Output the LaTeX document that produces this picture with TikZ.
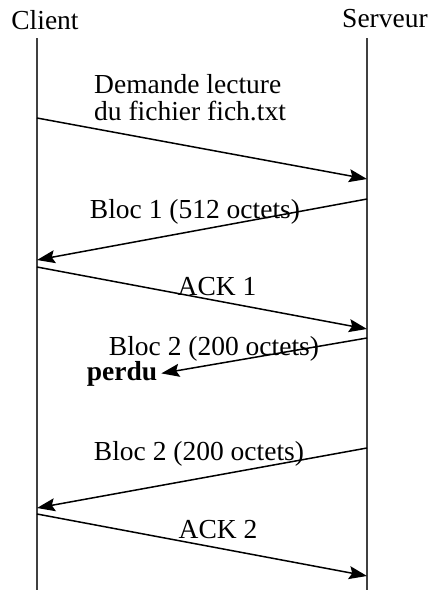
\documentclass[tikz,border=0pt]{standalone}
\usepackage{fontspec}
\setmainfont{Liberation Serif}
\usetikzlibrary{arrows.meta}
\begin{document}
\begin{tikzpicture}[x=1pt,y=-1pt,
  life/.style={line width=1.3pt,draw=black!75},
  msg/.style={line width=1.5pt,-{Stealth[length=18pt,width=13pt,inset=3pt]}},
  lbl/.style={anchor=base,inner sep=0pt,font=\fontsize{27.5}{31}\selectfont}]
\useasboundingbox (0,0) rectangle (431,590);
% lifelines
\coordinate (ctop) at (37,38);
\coordinate (cbot) at (37,590);
\coordinate (stop) at (367,38);
\coordinate (sbot) at (367,590);
\draw[life] (ctop) -- (cbot);
\draw[life] (stop) -- (sbot);
% headers
\node[lbl] (client) at (45,29) {Client};
\node[lbl] (serveur) at (385,27) {Serveur};
% endpoints
\coordinate (a1) at (37,118);  \coordinate (b1) at (367,179);
\coordinate (a2) at (367,199); \coordinate (b2) at (37,260);
\coordinate (a3) at (37,267);  \coordinate (b3) at (367,329);
\coordinate (a4) at (367,338);
\coordinate (a5) at (367,448); \coordinate (b5) at (37,508);
\coordinate (a6) at (37,514);  \coordinate (b6) at (367,576);
% labels
\node[lbl,anchor=west,align=left,font=\fontsize{27.5}{27}\selectfont] (t1) at (94,98) {Demande lecture\\du fichier fich.txt};
\node[lbl] (t2) at (195,218) {Bloc 1 (512 octets)};
\node[lbl] (t3) at (217,295) {ACK 1};
\node[lbl] (t4) at (214,355) {Bloc 2 (200 octets)};
\node[lbl,font=\fontsize{27.5}{31}\selectfont\bfseries] (perdu) at (122,380) {perdu};
\coordinate (b4) at ([xshift=4pt]perdu.east);
\node[lbl] (t5) at (199,460) {Bloc 2 (200 octets)};
\node[lbl] (t6) at (218,538) {ACK 2};
% messages
\draw[msg] (a1) -- (b1);
\draw[msg] (a2) -- (b2);
\draw[msg] (a3) -- (b3);
\draw[msg] (a4) -- (b4);
\draw[msg] (a5) -- (b5);
\draw[msg] (a6) -- (b6);
\end{tikzpicture}
\end{document}
